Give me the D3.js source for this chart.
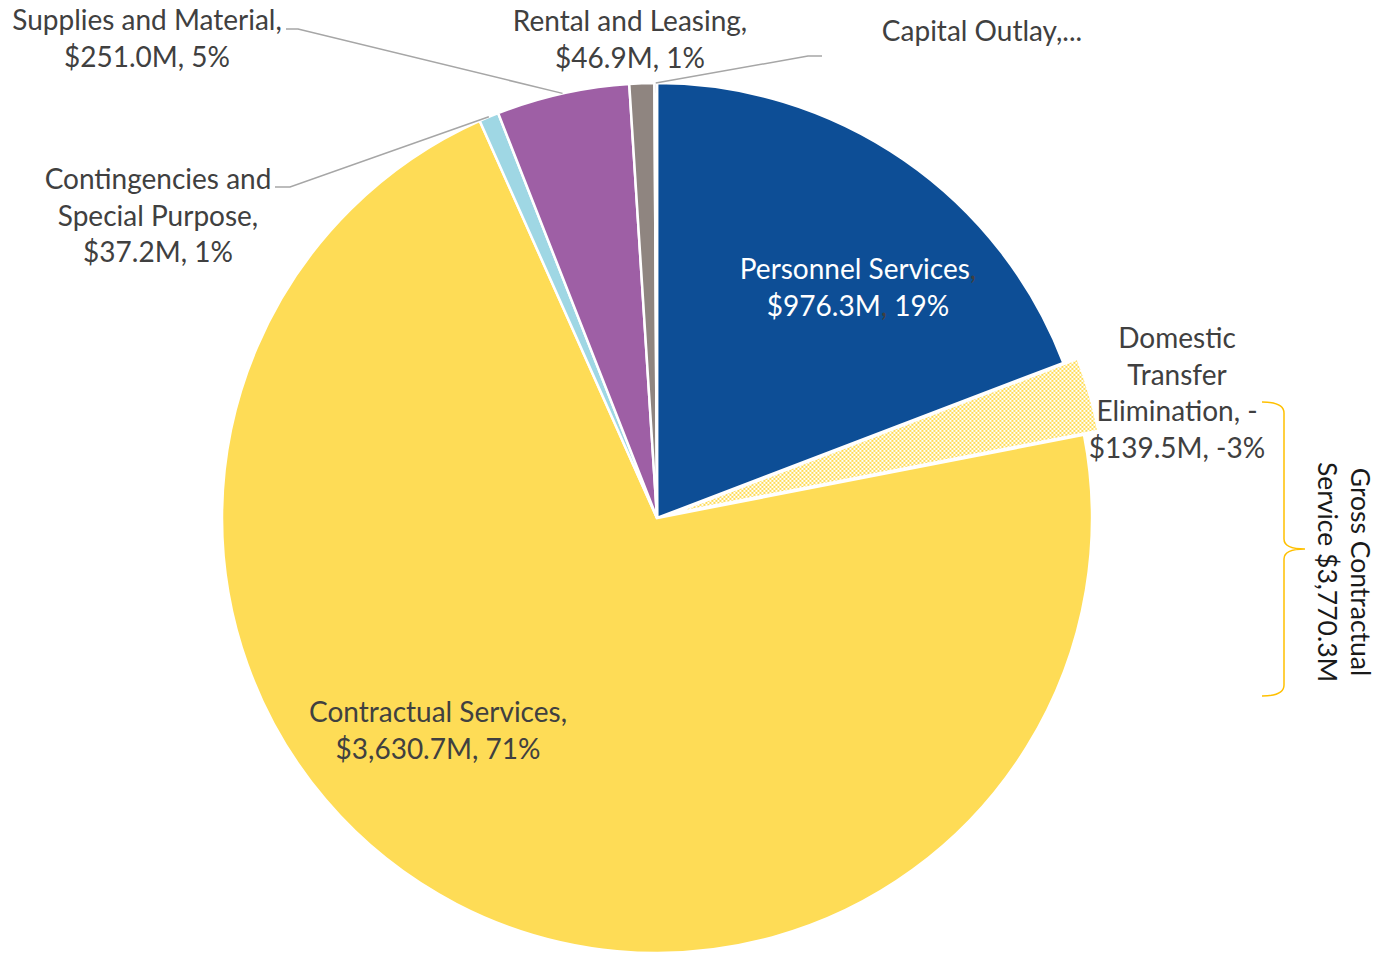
<!DOCTYPE html>
<html>
<head>
<meta charset="utf-8">
<script src="https://cdn.jsdelivr.net/npm/d3@7"></script>
<style>
  html, body { margin: 0; padding: 0; background: #fff; }
  svg { display: block; }
  text { font-family: Lato, "Open Sans", sans-serif; }
</style>
</head>
<body>
<svg id="chart" width="1378" height="953"></svg>
<script>
// Expenditure by category, $M (the transfer elimination is a negative offset)
const categories = [
  "Personnel Services",
  "Domestic Transfer Elimination",
  "Contractual Services",
  "Contingencies and Special Purpose",
  "Supplies and Material",
  "Rental and Leasing",
  "Capital Outlay"
];
const amounts = [976.3, -139.5, 3630.7, 37.2, 251.0, 46.9, 4.8];
const percentLabels = ["19%", "-3%", "71%", "1%", "5%", "1%", ""];
const sliceColors = ["#0D4E96", "url(#checker)", "#FEDC56", "#9FD7E4", "#9E5FA5", "#8F8580", "#1F3A6B"];
const grossContractualLabel = ["Gross Contractual", "Service $3,770.3M"];

const fmtMoney = v => (v < 0 ? "-" : "") + "$" + d3.format(",.1f")(Math.abs(v)) + "M";

const svg = d3.select("#chart");
const cx = 657, cy = 518, radius = 435;
const explodeIndex = 1, explodeBy = 15;
const fontSize = 28;

// checker fill for the elimination wedge
const defs = svg.append("defs");
const pat = defs.append("pattern")
  .attr("id", "checker").attr("width", 4).attr("height", 4)
  .attr("patternUnits", "userSpaceOnUse");
pat.append("rect").attr("width", 4).attr("height", 4).attr("fill", "#FEDC56");
pat.append("rect").attr("width", 2).attr("height", 2).attr("fill", "#fff");
pat.append("rect").attr("x", 2).attr("y", 2).attr("width", 2).attr("height", 2).attr("fill", "#fff");

const pie = d3.pie().sort(null).value(d => Math.abs(d));
const arcs = pie(amounts);
const arc = d3.arc().innerRadius(0).outerRadius(radius);

const g = svg.append("g").attr("transform", `translate(${cx},${cy})`);

g.selectAll("path.slice")
  .data(arcs)
  .join("path")
  .attr("class", "slice")
  .attr("d", arc)
  .attr("fill", (d, i) => sliceColors[i])
  .attr("stroke", "#fff")
  .attr("stroke-width", 2.5)
  .attr("stroke-linejoin", "miter")
  .attr("transform", (d, i) => {
    if (i !== explodeIndex) return null;
    const a = (d.startAngle + d.endAngle) / 2;
    return `translate(${explodeBy * Math.sin(a)},${-explodeBy * Math.cos(a)})`;
  });

// point on the rim at the middle of a wedge, in page coordinates
function rimPoint(i) {
  const d = arcs[i];
  const a = (d.startAngle + d.endAngle) / 2;
  return [cx + radius * Math.sin(a), cy - radius * Math.cos(a)];
}

// leader lines
const leader = d3.line();
const leaders = [
  { i: 4, pts: [[286, 29], [298, 29]] },
  { i: 3, pts: [[275, 187], [290, 187]] },
  { i: 6, pts: [[822, 56], [808, 56]] }
];
svg.selectAll("path.leader")
  .data(leaders)
  .join("path")
  .attr("class", "leader")
  .attr("d", d => leader([...d.pts, rimPoint(d.i)]))
  .attr("fill", "none")
  .attr("stroke", "#A6A6A6")
  .attr("stroke-width", 1.5);

// data labels
const labelColor = "#404040";
const lineH = 36.5;
const labels = [
  { i: 4, x: 147, y: 30, lines: ["Supplies and Material,", `${fmtMoney(amounts[4])}, ${percentLabels[4]}`] },
  { i: 5, x: 630, y: 31, lines: ["Rental and Leasing,", `${fmtMoney(amounts[5])}, ${percentLabels[5]}`] },
  { i: 6, x: 982, y: 41, lines: ["Capital Outlay,..."] },
  { i: 3, x: 158, y: 189, lines: ["Contingencies and", "Special Purpose,", `${fmtMoney(amounts[3])}, ${percentLabels[3]}`] },
  { i: 1, x: 1177, y: 348, lines: ["Domestic", "Transfer", "Elimination, -", `${fmtMoney(-amounts[1])}, ${percentLabels[1]}`] },
  { i: 2, x: 438, y: 722, lines: ["Contractual Services,", `${fmtMoney(amounts[2])}, ${percentLabels[2]}`] }
];
labels.forEach(l => {
  const t = svg.append("text")
    .attr("x", l.x).attr("y", l.y)
    .attr("text-anchor", "middle")
    .attr("font-size", fontSize)
    .attr("fill", labelColor);
  l.lines.forEach((s, k) => {
    t.append("tspan").attr("x", l.x).attr("dy", k === 0 ? 0 : lineH).text(s);
  });
});

// personnel label sits inside its wedge, in white with grey commas
{
  const x = 858, y = 279;
  const t = svg.append("text")
    .attr("x", x).attr("y", y)
    .attr("text-anchor", "middle")
    .attr("font-size", fontSize)
    .attr("fill", "#fff");
  const l1 = t.append("tspan").attr("x", x).attr("dy", 0);
  l1.append("tspan").text(categories[0]);
  l1.append("tspan").attr("fill", labelColor).text(",");
  const l2 = t.append("tspan").attr("x", x).attr("dy", lineH);
  l2.append("tspan").text(fmtMoney(amounts[0]));
  l2.append("tspan").attr("fill", labelColor).text(",");
  l2.append("tspan").text(" " + percentLabels[0]);
}

// brace grouping contractual services with the transfer elimination
svg.append("path")
  .attr("d", "M1262,402 Q1284,402 1284,413 L1284,539 Q1284,549 1305,549 Q1284,549 1284,559 L1284,685 Q1284,696 1262,696")
  .attr("fill", "none")
  .attr("stroke", "#FFC000")
  .attr("stroke-width", 1.5);

const gross = svg.append("text")
  .attr("transform", "translate(1351,572) rotate(90)")
  .attr("text-anchor", "middle")
  .attr("font-size", 26.5)
  .attr("fill", "#1a1a1a");
grossContractualLabel.forEach((s, k) => {
  gross.append("tspan").attr("x", 0).attr("dy", k === 0 ? 0 : 33).text(s);
});
</script>
</body>
</html>
